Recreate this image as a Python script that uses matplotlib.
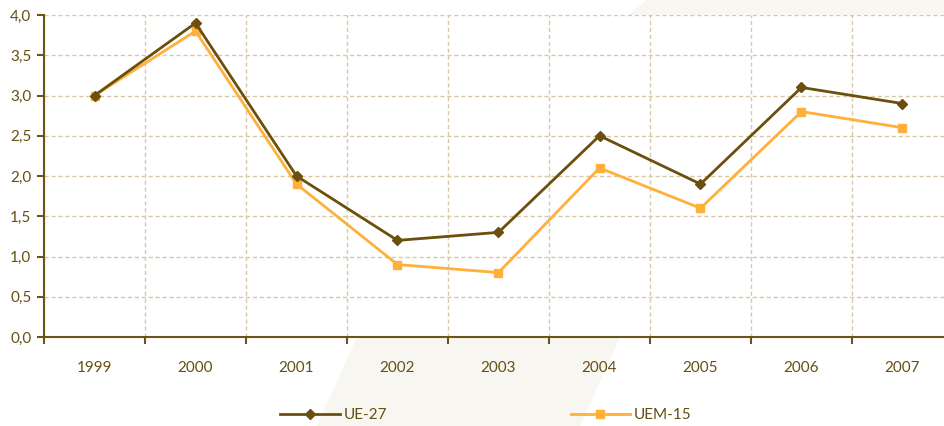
import matplotlib
matplotlib.use("Agg")
import matplotlib.pyplot as plt
from matplotlib.patches import Polygon

years = ["1999", "2000", "2001", "2002", "2003", "2004", "2005", "2006", "2007"]
ue27 = [3.0, 3.9, 2.0, 1.2, 1.3, 2.5, 1.9, 3.1, 2.9]
uem15 = [3.0, 3.8, 1.9, 0.9, 0.8, 2.1, 1.6, 2.8, 2.6]
yticks = [0.0, 0.5, 1.0, 1.5, 2.0, 2.5, 3.0, 3.5, 4.0]

plt.rcParams['font.family'] = ['Lato', 'DejaVu Sans']
W, H = 944, 426
fig = plt.figure(figsize=(W / 100, H / 100), dpi=100)
fig.patch.set_facecolor('white')

bg = '#f7f6f0'
# faint watermark shapes in figure pixel coords
fig.patches.append(Polygon([(357 / W, 1 - 337 / H), (620 / W, 1 - 337 / H),
                            (580 / W, 0), (317 / W, 0)],
                           closed=True, transform=fig.transFigure,
                           facecolor=bg, edgecolor='none', zorder=-5))
fig.patches.append(Polygon([(647 / W, 1), (1, 1), (1, 1 - 15 / H), (628 / W, 1 - 15 / H)],
                           closed=True, transform=fig.transFigure,
                           facecolor=bg, edgecolor='none', zorder=-5))

ax = fig.add_axes([44 / W, (H - 337) / H, (W - 44) / W, (337 - 15) / H])
ax.set_facecolor('white')

axc = '#6b5518'
txt = '#654f12'
gridc = '#d9c8a6'

x = list(range(len(years)))
ax.plot(x, ue27, color='#6b4f0c', lw=2, marker='D', ms=5, label='UE-27', zorder=4)
ax.plot(x, uem15, color='#ffb03a', lw=2, marker='s', ms=6, label='UEM-15', zorder=3)

ax.set_yticks(yticks)
ax.set_yticklabels([f"{v:.1f}".replace('.', ',') for v in yticks])

bounds = [i + 0.5 for i in range(len(years))]
ax.set_xticks([-0.5] + bounds)
ax.set_xticklabels([])
ax.set_xticks(x, minor=True)
ax.set_xticklabels(years, minor=True)
ax.set_ylim(0, 4.0)
ax.set_xlim(-0.5, -0.5 + (944 - 44) / 101.0)
ax.tick_params(axis='x', which='minor', length=0, pad=17, labelsize=11, labelcolor=txt)
ax.tick_params(axis='x', which='major', length=5, width=1.5, color=axc, direction='out')
ax.tick_params(axis='y', length=5, width=1.5, color=axc, labelsize=11, labelcolor=txt, pad=4)

ax.grid(True, which='major', axis='both', color=gridc, linestyle=(0, (3, 2)), lw=1)
ax.set_axisbelow(True)
for s in ['top', 'right']:
    ax.spines[s].set_visible(False)
for s in ['left', 'bottom']:
    ax.spines[s].set_color(axc)
    ax.spines[s].set_linewidth(1.5)

leg = fig.legend(loc='center', bbox_to_anchor=(486 / W, 1 - 415 / H), ncol=2,
                 frameon=False, handlelength=3.9, handletextpad=0.25,
                 columnspacing=12.0, fontsize=11)
for t in leg.get_texts():
    t.set_color(txt)

fig.savefig('out.png', dpi=100)
